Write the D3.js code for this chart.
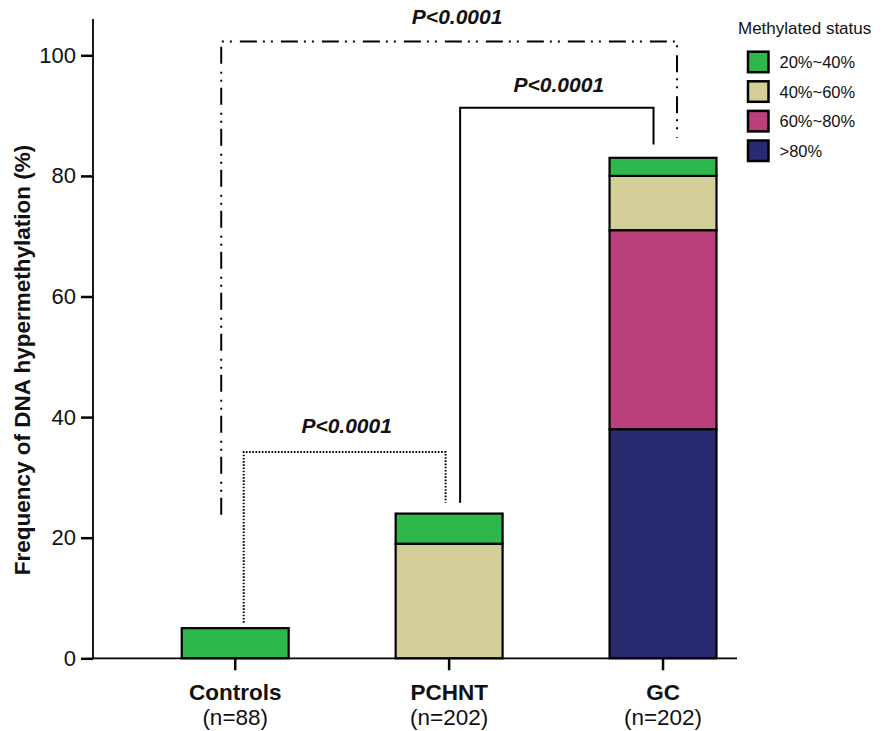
<!DOCTYPE html>
<html>
<head>
<meta charset="utf-8">
<script src="https://cdn.jsdelivr.net/npm/d3@7"></script>
<style>
  body { margin: 0; background: #fff; }
  svg { display: block; font-family: "Liberation Sans", Arial, sans-serif; }
</style>
</head>
<body>
<div id="chart"></div>
<script>
// Groups and their sample sizes
const categories = ["Controls", "PCHNT", "GC"];
const sampleLabels = ["(n=88)", "(n=202)", "(n=202)"];

// Methylated status (legend order) and values in % per group
const statuses = ["20%~40%", "40%~60%", "60%~80%", ">80%"];
const status20to40 = [5, 5, 3];
const status40to60 = [0, 19, 9];
const status60to80 = [0, 0, 33];
const statusOver80 = [0, 0, 38];

const yTicks = [0, 20, 40, 60, 80, 100];

// Pairwise comparisons: bracket top and leg ends, in % units
const compFrom = ["Controls", "PCHNT", "Controls"];
const compTo = ["PCHNT", "GC", "GC"];
const compTop = [34.2, 91.3, 102.3];
const compFromEnd = [5.9, 25.8, 23.8];
const compToEnd = [25.8, 85.2, 86.3];
const compLabels = ["P<0.0001", "P<0.0001", "P<0.0001"];

const width = 882;
const height = 731;
const margin = { top: 55.3, left: 93, bottom: 72.7 };

const colors = {
    "20%~40%": "#2eb84b",
    "40%~60%": "#d4cf98",
    "60%~80%": "#bb3f7b",
    ">80%": "#2a2a70"
};

const svg = d3.select("#chart")
    .append("svg")
    .attr("width", width)
    .attr("height", height);

// Scales
const y = d3.scaleLinear()
    .domain([0, 100])
    .range([height - margin.bottom, margin.top]);

const x = d3.scaleBand()
    .domain(categories)
    .range([181.75, 716.5])
    .paddingInner(0.5)
    .paddingOuter(0);

// Stacked data, bottom segment first
const rows = categories.map((c, i) => ({
    cat: c,
    "20%~40%": status20to40[i],
    "40%~60%": status40to60[i],
    "60%~80%": status60to80[i],
    ">80%": statusOver80[i]
}));
const stackKeys = statuses.slice().reverse();
const series = d3.stack().keys(stackKeys)(rows);

// Bars
svg.append("g")
    .selectAll("g")
    .data(series)
    .join("g")
    .attr("fill", d => colors[d.key])
    .selectAll("rect")
    .data(d => d.filter(s => s[1] - s[0] > 0))
    .join("rect")
    .attr("x", d => x(d.data.cat))
    .attr("y", d => y(d[1]))
    .attr("width", x.bandwidth())
    .attr("height", d => y(d[0]) - y(d[1]))
    .attr("stroke", "#000")
    .attr("stroke-width", 2.2);

// Y axis
const yAxis = svg.append("g")
    .attr("transform", `translate(${margin.left},0)`)
    .call(d3.axisLeft(y).tickValues(yTicks).tickSize(12).tickPadding(5));
yAxis.select(".domain").remove();
yAxis.selectAll(".tick line").attr("stroke", "#000").attr("stroke-width", 2.5);
yAxis.selectAll(".tick text")
    .attr("font-family", "Liberation Sans, Arial, sans-serif")
    .attr("font-size", 22)
    .attr("fill", "#111");
yAxis.append("line")
    .attr("x1", 0).attr("x2", 0)
    .attr("y1", y(0)).attr("y2", y(106))
    .attr("stroke", "#000")
    .attr("stroke-width", 1.8);

// X axis
const xAxis = svg.append("g")
    .attr("transform", `translate(0,${y(0)})`)
    .call(d3.axisBottom(x).tickSize(12).tickFormat(""));
xAxis.select(".domain").remove();
xAxis.selectAll(".tick line").attr("stroke", "#000").attr("stroke-width", 2.5);
xAxis.append("line")
    .attr("x1", margin.left).attr("x2", 737)
    .attr("y1", 0).attr("y2", 0)
    .attr("stroke", "#000")
    .attr("stroke-width", 1.8);

const xLabels = svg.append("g");
categories.forEach((c, i) => {
    const cx = x(c) + x.bandwidth() / 2;
    xLabels.append("text")
        .attr("x", cx)
        .attr("y", 700)
        .attr("text-anchor", "middle")
        .attr("font-size", 22.5)
        .attr("font-weight", "bold")
        .attr("fill", "#111")
        .text(c);
    xLabels.append("text")
        .attr("x", cx)
        .attr("y", 725)
        .attr("text-anchor", "middle")
        .attr("font-size", 22.5)
        .attr("fill", "#111")
        .text(sampleLabels[i]);
});

// Y axis title
svg.append("text")
    .attr("transform", "translate(30,360) rotate(-90)")
    .attr("text-anchor", "middle")
    .attr("font-size", 22.5)
    .attr("font-weight", "bold")
    .attr("fill", "#111")
    .text("Frequency of DNA hypermethylation (%)");

// Significance brackets
const bracketStyle = [
    { dash: "1.6,1.6", width: 2, fromOff: 8.5, toOff: -3.5 },
    { dash: null, width: 2, fromOff: 11, toOff: -9.5 },
    { dash: "17,6,2,6,2,8", width: 2, fromOff: -14, toOff: 14 }
];
const center = c => x(c) + x.bandwidth() / 2;

compFrom.forEach((f, i) => {
    const st = bracketStyle[i];
    const x1 = center(f) + st.fromOff;
    const x2 = center(compTo[i]) + st.toOff;
    const path = d3.path();
    path.moveTo(x1, y(compFromEnd[i]));
    path.lineTo(x1, y(compTop[i]));
    path.lineTo(x2, y(compTop[i]));
    path.lineTo(x2, y(compToEnd[i]));
    svg.append("path")
        .attr("d", path.toString())
        .attr("fill", "none")
        .attr("stroke", "#000")
        .attr("stroke-width", st.width)
        .attr("stroke-dasharray", st.dash);
    svg.append("text")
        .attr("x", (x1 + x2) / 2 + (i === 2 ? 8 : 2))
        .attr("y", y(compTop[i]) - (i === 2 ? 17 : i === 1 ? 16 : 19))
        .attr("text-anchor", "middle")
        .attr("font-size", 21)
        .attr("font-weight", "bold")
        .attr("font-style", "italic")
        .attr("fill", "#111")
        .text(compLabels[i]);
});

// Legend
const legend = svg.append("g").attr("transform", "translate(738,0)");
legend.append("text")
    .attr("x", 0)
    .attr("y", 34)
    .attr("font-size", 17)
    .attr("fill", "#111")
    .text("Methylated status");

const items = legend.selectAll(".item")
    .data(statuses)
    .join("g")
    .attr("class", "item")
    .attr("transform", (d, i) => `translate(10,${51.7 + i * 29.6})`);
items.append("rect")
    .attr("width", 20.5)
    .attr("height", 20.5)
    .attr("fill", d => colors[d])
    .attr("stroke", "#000")
    .attr("stroke-width", 2.5);
items.append("text")
    .attr("x", 31.5)
    .attr("y", 16.5)
    .attr("font-size", 16.5)
    .attr("fill", "#111")
    .text(d => d);
</script>
</body>
</html>
